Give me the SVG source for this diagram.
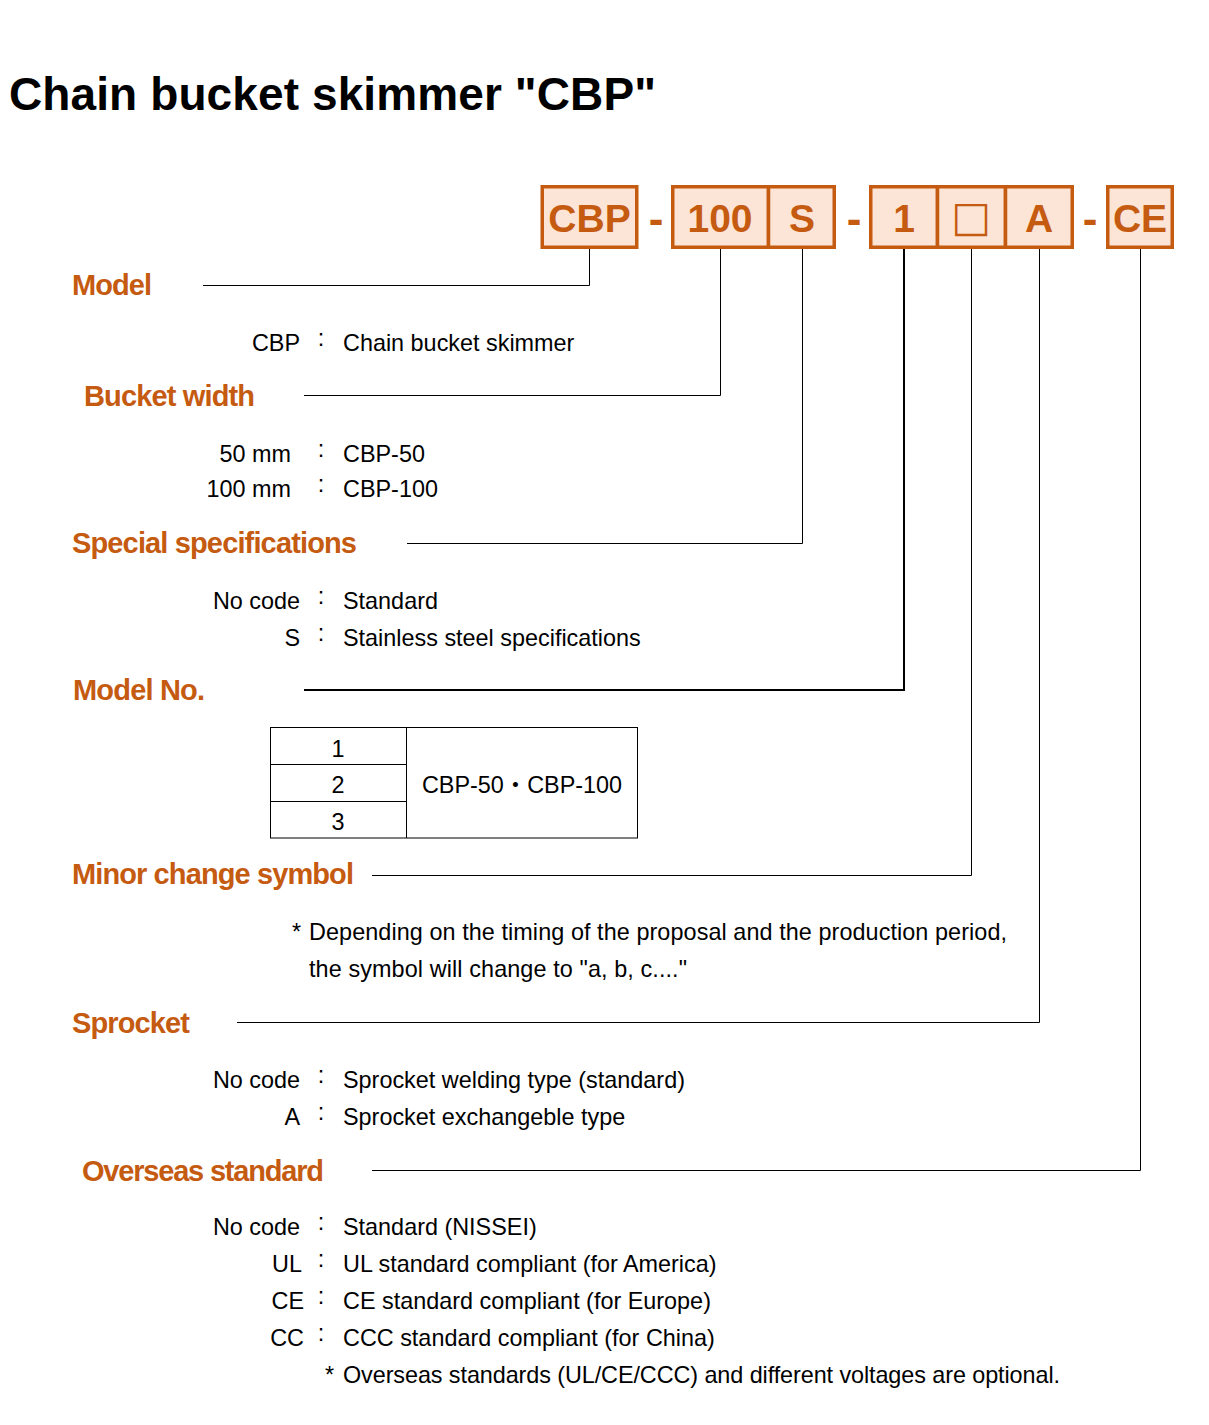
<svg xmlns="http://www.w3.org/2000/svg" width="1209" height="1425" viewBox="0 0 1209 1425">
<style>
.title{font-family:"Liberation Sans",Arial,sans-serif;font-weight:bold;font-size:46px;fill:#000}
.cell{fill:#FCE4D6;stroke:#C55A11;stroke-width:3.5}
.code{font-family:"Liberation Sans",Arial,sans-serif;font-weight:bold;font-size:39px;fill:#C55A11;text-anchor:middle}
.sep{font-family:"Liberation Sans",Arial,sans-serif;font-weight:bold;font-size:44px;fill:#C55A11;text-anchor:middle}
.lbl{font-family:"Liberation Sans",Arial,sans-serif;font-weight:bold;font-size:29px;fill:#C55A11}
.t{font-family:"Liberation Sans",Arial,"Noto Sans CJK JP",sans-serif;font-size:23.4px;fill:#000}
.r{text-anchor:end}
.c{text-anchor:middle}
.conn{fill:none;stroke:#000;stroke-width:1}
.tbl{fill:none;stroke:#000;stroke-width:1}
</style>
<text class="title" x="9" y="110" textLength="647">Chain bucket skimmer "CBP"</text>

<g id="code-cbp"><rect class="cell" x="542.25" y="186.75" width="94.5" height="60.5"/><text class="code" x="589.5" y="232">CBP</text></g>
<text class="sep" x="656" y="234">-</text>
<g id="code-100"><rect class="cell" x="672.75" y="186.75" width="95.75" height="60.5"/><text class="code" x="720" y="232">100</text></g>
<g id="code-s"><rect class="cell" x="768.5" y="186.75" width="65.75" height="60.5"/><text class="code" x="802" y="232">S</text></g>
<text class="sep" x="854" y="234">-</text>
<g id="code-1"><rect class="cell" x="870.75" y="186.75" width="66.75" height="60.5"/><text class="code" x="904" y="232">1</text></g>
<g id="code-box"><rect class="cell" x="937.5" y="186.75" width="68" height="60.5"/><text class="code" x="971" y="231" style="font-family:'DejaVu Sans',sans-serif;font-weight:normal;font-size:42px">□</text></g>
<g id="code-a"><rect class="cell" x="1005.5" y="186.75" width="66.75" height="60.5"/><text class="code" x="1039" y="232">A</text></g>
<text class="sep" x="1090" y="234">-</text>
<g id="code-ce"><rect class="cell" x="1107.75" y="186.75" width="64.5" height="60.5"/><text class="code" x="1140" y="232">CE</text></g>

<g id="connectors">
<path class="conn" d="M589.5 249 V285.5 H203"/>
<path class="conn" d="M720.5 249 V395.5 H304"/>
<path class="conn" d="M802.5 249 V543.5 H407"/>
<path class="conn" d="M904 249 V690 H304" style="stroke-width:2"/>
<path class="conn" d="M971.5 249 V875.5 H372"/>
<path class="conn" d="M1039.5 249 V1022.5 H237"/>
<path class="conn" d="M1140.5 249 V1170.5 H372"/>
</g>

<g id="model">
<text class="lbl" x="72" y="295" textLength="80">Model</text>
<text class="t r" x="300" y="351">CBP</text><text class="t c" x="321" y="346">:</text><text class="t" x="343" y="351">Chain bucket skimmer</text>
</g>

<g id="bucket-width">
<text class="lbl" x="84" y="406" textLength="171">Bucket width</text>
<text class="t r" x="291" y="462">50 mm</text><text class="t c" x="321" y="457">:</text><text class="t" x="343" y="462">CBP-50</text>
<text class="t r" x="291" y="497">100 mm</text><text class="t c" x="321" y="492">:</text><text class="t" x="343" y="497">CBP-100</text>
</g>

<g id="special-specifications">
<text class="lbl" x="72" y="553" textLength="285">Special specifications</text>
<text class="t r" x="300" y="609">No code</text><text class="t c" x="321" y="604">:</text><text class="t" x="343" y="609">Standard</text>
<text class="t r" x="300" y="646">S</text><text class="t c" x="321" y="641">:</text><text class="t" x="343" y="646">Stainless steel specifications</text>
</g>

<g id="model-no">
<text class="lbl" x="73" y="700" textLength="132">Model No.</text>
<rect class="tbl" x="270.5" y="727.5" width="367" height="110.5"/>
<line class="tbl" x1="406.5" y1="727.5" x2="406.5" y2="838"/>
<line class="tbl" x1="270.5" y1="764.5" x2="406.5" y2="764.5"/>
<line class="tbl" x1="270.5" y1="801.5" x2="406.5" y2="801.5"/>
<text class="t c" x="338" y="757">1</text>
<text class="t c" x="338" y="793">2</text>
<text class="t c" x="338" y="830">3</text>
<text class="t c" x="522" y="793">CBP-50・CBP-100</text>
</g>

<g id="minor-change-symbol">
<text class="lbl" x="72" y="884" textLength="282">Minor change symbol</text>
<text class="t" x="292" y="940">*</text>
<text class="t" x="309" y="940" textLength="698">Depending on the timing of the proposal and the production period,</text>
<text class="t" x="309" y="977" textLength="378">the symbol will change to "a, b, c...."</text>
</g>

<g id="sprocket">
<text class="lbl" x="72" y="1033" textLength="118">Sprocket</text>
<text class="t r" x="300" y="1088">No code</text><text class="t c" x="321" y="1083">:</text><text class="t" x="343" y="1088">Sprocket welding type (standard)</text>
<text class="t r" x="300" y="1125">A</text><text class="t c" x="321" y="1120">:</text><text class="t" x="343" y="1125">Sprocket exchangeble type</text>
</g>

<g id="overseas-standard">
<text class="lbl" x="82" y="1181" textLength="242">Overseas standard</text>
<text class="t r" x="300" y="1235">No code</text><text class="t c" x="321" y="1230">:</text><text class="t" x="343" y="1235">Standard (NISSEI)</text>
<text class="t r" x="302" y="1272">UL</text><text class="t c" x="321" y="1267">:</text><text class="t" x="343" y="1272">UL standard compliant (for America)</text>
<text class="t r" x="304" y="1309">CE</text><text class="t c" x="321" y="1304">:</text><text class="t" x="343" y="1309">CE standard compliant (for Europe)</text>
<text class="t r" x="304" y="1346">CC</text><text class="t c" x="321" y="1341">:</text><text class="t" x="343" y="1346">CCC standard compliant (for China)</text>
<text class="t" x="325" y="1383">*</text>
<text class="t" x="343" y="1383" textLength="717">Overseas standards (UL/CE/CCC) and different voltages are optional.</text>
</g>
</svg>
